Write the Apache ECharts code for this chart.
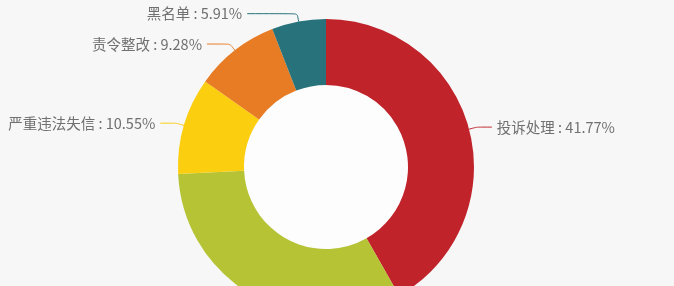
<!DOCTYPE html>
<html>
<head>
<meta charset="utf-8">
<script src="https://cdn.jsdelivr.net/npm/echarts@6/dist/echarts.min.js"></script>
<style>html,body{margin:0;padding:0;background:#f7f7f7;}#c{width:674px;height:286px;}</style>
</head>
<body>
<div id="c"></div>
<script>
const categories = ['投诉处理', '行政处罚', '严重违法失信', '责令整改', '黑名单'];
const values = [41.77, 32.49, 10.55, 9.28, 5.91];
const colors = ['#c1232b', '#b5c334', '#fcce10', '#e87c25', '#27727b'];
const labelLen2 = [15, 15, 16, 23, 50];
const labelShown = [true, false, true, true, true];

const chart = echarts.init(document.getElementById('c'));
chart.setOption({
  backgroundColor: '#f7f7f7',
  animation: false,
  series: [
    {
      type: 'pie',
      silent: true,
      center: [326, 167],
      radius: [0, 82],
      label: { show: false },
      labelLine: { show: false },
      itemStyle: { color: '#fdfdfd' },
      data: [{ value: 1, name: '' }]
    },
    {
      type: 'pie',
      center: [326, 167],
      radius: [82, 148],
      startAngle: 90,
      clockwise: true,
      data: categories.map((n, i) => ({
        name: n,
        value: values[i],
        itemStyle: { color: colors[i] },
        label: { show: labelShown[i] },
        labelLine: { show: labelShown[i], length2: labelLen2[i] }
      })),
      label: {
        formatter: '{b} : {c}%',
        color: '#707070',
        fontSize: 14.5,
        overflow: 'none',
        fontFamily: '"Noto Sans CJK SC", "Noto Sans", sans-serif'
      },
      labelLine: { length: 8, smooth: 0.2, lineStyle: { width: 1 } },
      itemStyle: { borderWidth: 0 }
    }
  ]
});
</script>
</body>
</html>
